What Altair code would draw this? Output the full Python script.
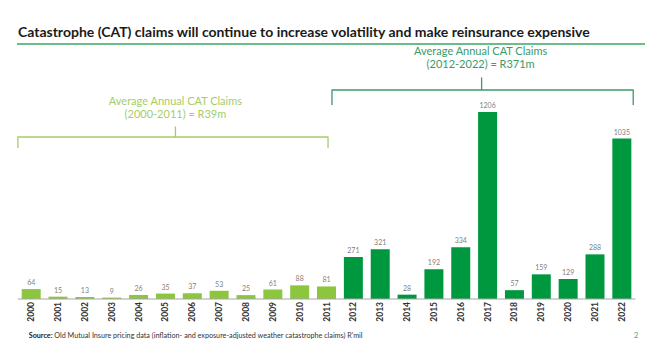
import altair as alt
import pandas as pd

# ---- data ----
years = list(range(2000, 2023))
claims = [64, 15, 13, 9, 26, 35, 37, 53, 25, 61, 88, 81,
          271, 321, 28, 192, 334, 1206, 57, 159, 129, 288, 1035]
period = ["2000-2011"] * 12 + ["2012-2022"] * 11

title_text = "Catastrophe (CAT) claims will continue to increase volatility and make reinsurance expensive"
left_lines = ["Average Annual CAT Claims", "(2000-2011) =  R39m"]
right_lines = ["Average Annual CAT Claims", "(2012-2022) =  R371m"]
source_bold = "Source:"
source_rest = "Old Mutual Insure pricing data (inflation- and exposure-adjusted weather catastrophe claims) R'mil"
page_no = "2"

LIGHT = "#8cc63f"
DARK = "#00983f"
LEFT_ANN = "#a3cd6b"
RIGHT_ANN = "#3a9a68"
FONT = "Lato"

df = pd.DataFrame({"year": years, "claims": claims, "period": period})

# scales (plot area 644x345; zero line at 291px, 0.155 px per R'mil)
K = 0.155
ZERO = 291
H = 345
W = 644
y_hi = ZERO / K
y_lo = y_hi - H / K
step = 27.27
x_lo = 2000 - 18.5 / step
x_hi = 2000 + (W - 18.5) / step

def v(page_y):
    return (299 - page_y) / K

def yr(page_x):
    return 2000 + (page_x - 26.5) / step

xs = alt.Scale(domain=[x_lo, x_hi], nice=False, zero=False)
ys = alt.Scale(domain=[y_lo, y_hi], nice=False, zero=False)

base = alt.Chart(df)

bars = base.mark_bar(size=19).encode(
    x=alt.X("year:Q", scale=xs, axis=None),
    y=alt.Y("claims:Q", scale=ys, axis=None),
    color=alt.Color("period:N", scale=alt.Scale(domain=["2000-2011", "2012-2022"], range=[LIGHT, DARK]), legend=None),
)

vals = base.mark_text(baseline="bottom", dy=-3, fontSize=7, color="#7f7f7f", font=FONT).encode(
    x=alt.X("year:Q", scale=xs), y=alt.Y("claims:Q", scale=ys), text="claims:Q"
)

year_lbl = base.transform_calculate(ly=str(v(302))).mark_text(
    angle=270, align="right", baseline="middle", fontSize=8.5, fontWeight="bold", color="#333333", font=FONT
).encode(x=alt.X("year:Q", scale=xs), y=alt.Y("ly:Q", scale=ys), text=alt.Text("year:Q", format="d"))

# baseline
axis_df = pd.DataFrame({"x": [yr(13)], "x2": [yr(640)], "y": [0]})
axis_line = alt.Chart(axis_df).mark_rule(color="#a6a6a6", strokeWidth=1.2).encode(
    x=alt.X("x:Q", scale=xs), x2="x2:Q", y=alt.Y("y:Q", scale=ys)
)

# title + underline
title_df = pd.DataFrame({"x": [yr(13)], "y": [v(33)], "t": [title_text]})
title = alt.Chart(title_df).mark_text(align="left", baseline="middle", fontSize=14, fontWeight="bold",
                                      color="#1a1a1a", font=FONT).encode(
    x=alt.X("x:Q", scale=xs), y=alt.Y("y:Q", scale=ys), text="t:N")
ul_df = pd.DataFrame({"x": [yr(12)], "x2": [yr(650)], "y": [v(44)]})
underline = alt.Chart(ul_df).mark_rule(color="#3aa65e", strokeWidth=1.5).encode(
    x=alt.X("x:Q", scale=xs), x2="x2:Q", y=alt.Y("y:Q", scale=ys))

# braces
def brace(x0, x1, xm, y_end, y_h, y_top, color):
    pts = pd.DataFrame({
        "x": [x0, x0, xm, xm, xm, x1, x1],
        "y": [y_end, y_h, y_h, y_top, y_h, y_h, y_end],
        "o": list(range(7)),
    })
    return alt.Chart(pts).mark_line(color=color, strokeWidth=1.3, strokeJoin="round").encode(
        x=alt.X("x:Q", scale=xs), y=alt.Y("y:Q", scale=ys), order="o:Q")

lb = brace(yr(13), yr(328), yr(173), v(148), v(137), v(127), LEFT_ANN)
rb = brace(yr(332), yr(638), yr(484), v(105), v(90), v(78), RIGHT_ANN)

ann_df = pd.DataFrame({
    "x": [yr(173), yr(173), yr(483), yr(483)],
    "y": [v(102), v(114.5), v(52), v(64.5)],
    "t": left_lines + right_lines,
    "c": [LEFT_ANN, LEFT_ANN, RIGHT_ANN, RIGHT_ANN],
})
ann = alt.Chart(ann_df).mark_text(align="center", baseline="middle", fontSize=11, font=FONT).encode(
    x=alt.X("x:Q", scale=xs), y=alt.Y("y:Q", scale=ys), text="t:N", color=alt.Color("c:N", scale=None))

src_df = pd.DataFrame({"x": [yr(24)], "y": [v(336)], "t": [source_bold]})
src_b = alt.Chart(src_df).mark_text(align="left", baseline="middle", fontSize=7.2, fontWeight="bold",
                                    color="#1a1a1a", font=FONT).encode(
    x=alt.X("x:Q", scale=xs), y=alt.Y("y:Q", scale=ys), text="t:N")
src2_df = pd.DataFrame({"x": [yr(50)], "y": [v(336)], "t": [source_rest]})
src_r = alt.Chart(src2_df).mark_text(align="left", baseline="middle", fontSize=7.2,
                                     color="#333333", font=FONT).encode(
    x=alt.X("x:Q", scale=xs), y=alt.Y("y:Q", scale=ys), text="t:N")
pg_df = pd.DataFrame({"x": [yr(641)], "y": [v(336)], "t": [page_no]})
pg = alt.Chart(pg_df).mark_text(align="center", baseline="middle", fontSize=8,
                                color="#4aae9b", font=FONT).encode(
    x=alt.X("x:Q", scale=xs), y=alt.Y("y:Q", scale=ys), text="t:N")

chart = alt.layer(bars, vals, year_lbl, axis_line, title, underline, lb, rb, ann, src_b, src_r, pg).properties(
    width=W, height=H, padding=0, autosize=alt.AutoSizeParams(type="none"), background="white"
).configure_view(stroke=None)

chart.save("out.html", embed_options={"renderer": "svg", "actions": False})
